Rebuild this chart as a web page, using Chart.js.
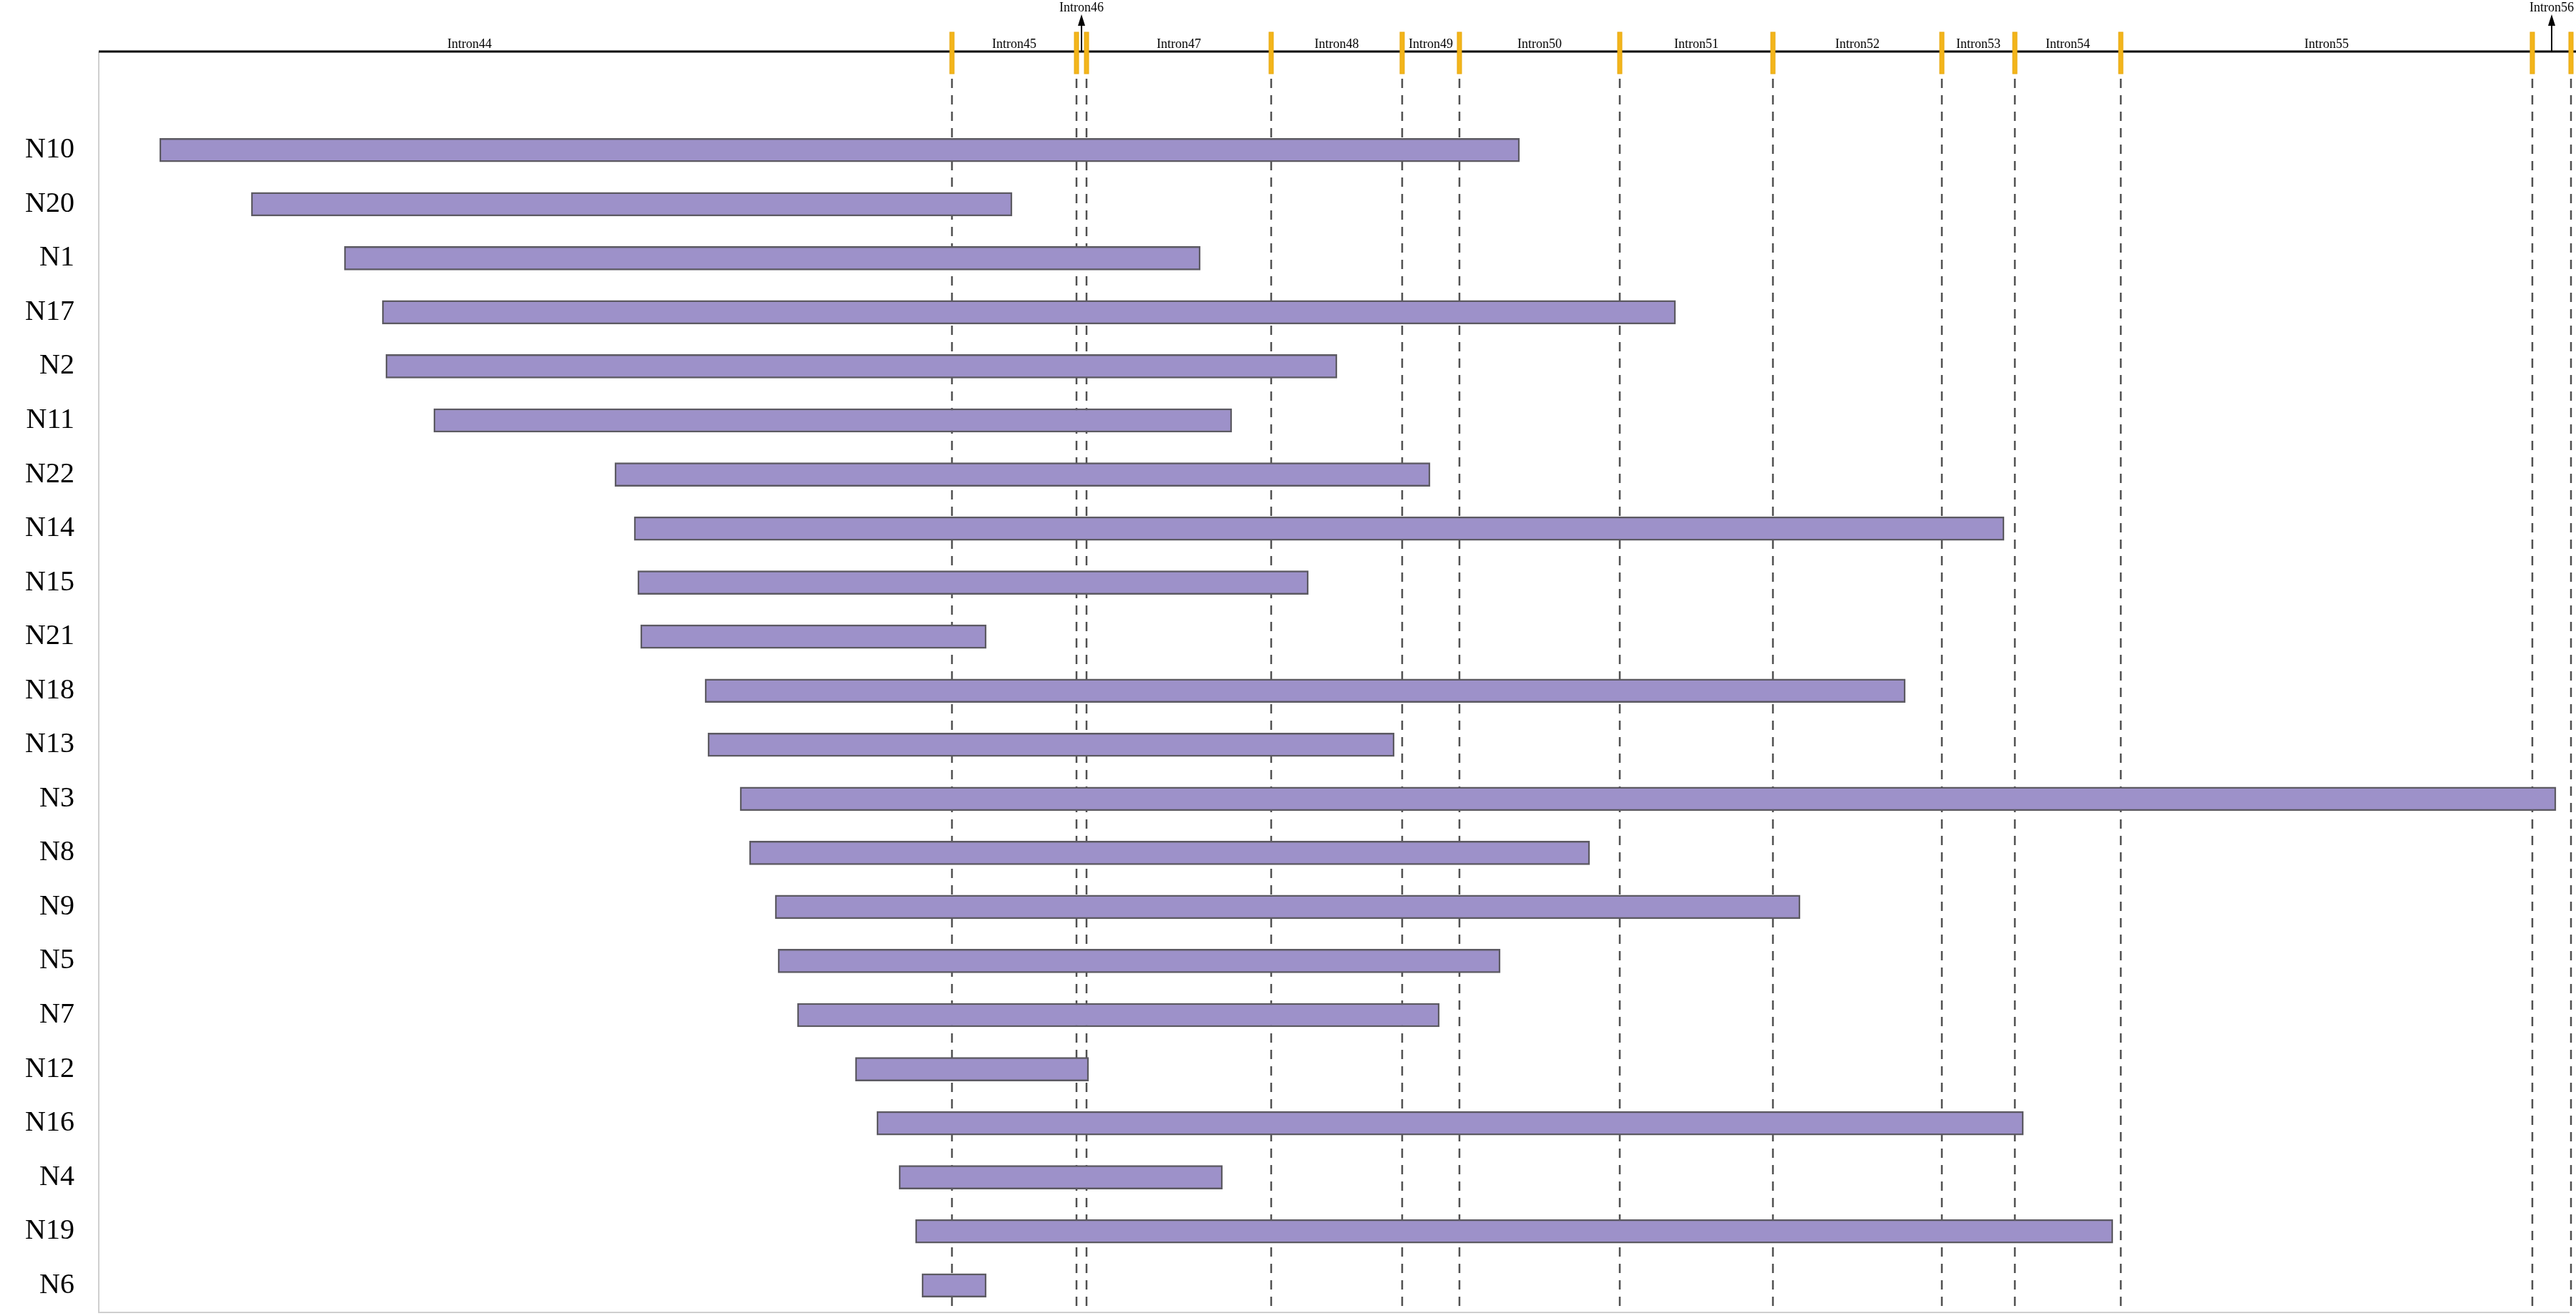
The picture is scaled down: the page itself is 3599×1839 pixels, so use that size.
<!DOCTYPE html>
<html>
<head>
<meta charset="utf-8">
<title>Intron deletions</title>
<script src="https://cdn.jsdelivr.net/npm/chart.js@4.4.0/dist/chart.umd.min.js"></script>
<style>
  html, body { margin: 0; padding: 0; background: #fff; overflow: hidden; }
  #chartDeletions { display: block; width: 3599px; height: 1839px; }
</style>
</head>
<body>
<canvas id="chartDeletions" width="3599" height="1839"></canvas>
<script>
// samples, top to bottom
const samples = ["N10", "N20", "N1", "N17", "N2", "N11", "N22", "N14", "N15", "N21", "N18",
  "N13", "N3", "N8", "N9", "N5", "N7", "N12", "N16", "N4", "N19", "N6"];
// deletion start / end (position units along the gene)
const starts = [223, 351, 481, 534, 539, 606, 859, 886, 891, 895, 985,
  989, 1034, 1047, 1083, 1087, 1114, 1195, 1225, 1256, 1279, 1288];
const ends = [2123, 1414, 1677, 2341, 1868, 1721, 1998, 2800, 1828, 1378, 2662,
  1948, 3571, 2221, 2515, 2096, 2011, 1521, 2827, 1708, 2952, 1378];

// exon positions (intron boundaries)
const exonPos = [1330, 1504, 1518, 1776, 1959, 2039, 2263, 2477, 2713, 2815, 2963, 3538, 3592];
const intronNames = ["Intron44", "Intron45", "Intron46", "Intron47", "Intron48", "Intron49", "Intron50",
  "Intron51", "Intron52", "Intron53", "Intron54", "Intron55", "Intron56"];
const intron44Start = -18;

const xMin = 138;
const xMax = 3597;

const serif = "'Liberation Serif', 'Times New Roman', serif";

const intronTrack = {
  id: "intronTrack",
  beforeDatasetsDraw(chart) {
    const { ctx, chartArea, scales } = chart;
    const x = scales.x;
    ctx.save();
    // plot frame (left + bottom)
    ctx.strokeStyle = "#cfcfcf";
    ctx.lineWidth = 2;
    ctx.beginPath();
    ctx.moveTo(chartArea.left, 72);
    ctx.lineTo(chartArea.left, chartArea.bottom);
    ctx.lineTo(x.getPixelForValue(3590), chartArea.bottom);
    ctx.stroke();
    // dashed guides under each exon
    ctx.strokeStyle = "#505050";
    ctx.lineWidth = 2.5;
    ctx.setLineDash([13, 10]);
    exonPos.forEach((p) => {
      const px = Math.round(x.getPixelForValue(p));
      ctx.beginPath();
      ctx.moveTo(px, 110);
      ctx.lineTo(px, chartArea.bottom);
      ctx.stroke();
    });
    ctx.restore();
  },
  afterDraw(chart) {
    const { ctx, chartArea, scales } = chart;
    const x = scales.x;
    const axisY = 72;
    ctx.save();
    // gene line
    ctx.strokeStyle = "#000";
    ctx.lineWidth = 3;
    ctx.beginPath();
    ctx.moveTo(chartArea.left, axisY);
    ctx.lineTo(chart.width, axisY);
    ctx.stroke();

    // intron labels
    ctx.font = "18px " + serif;
    ctx.fillStyle = "#000";
    ctx.textAlign = "center";
    const bounds = [intron44Start, ...exonPos];
    intronNames.forEach((name, i) => {
      const a = x.getPixelForValue(bounds[i]);
      const b = x.getPixelForValue(bounds[i + 1]);
      const mid = (a + b) / 2;
      const w = ctx.measureText(name).width;
      if (b - a > w + 4) {
        ctx.textBaseline = "alphabetic";
        ctx.fillText(name, mid, axisY - 5);
      } else {
        // narrow intron: arrow + label above
        ctx.lineWidth = 2;
        ctx.beginPath();
        ctx.moveTo(mid, axisY);
        ctx.lineTo(mid, 34);
        ctx.stroke();
        ctx.beginPath();
        ctx.moveTo(mid, 20);
        ctx.lineTo(mid - 5, 36);
        ctx.lineTo(mid + 5, 36);
        ctx.closePath();
        ctx.fill();
        ctx.textBaseline = "alphabetic";
        ctx.fillText(name, mid, 16);
      }
    });

    // exon marks
    ctx.fillStyle = "#f3b51b";
    ctx.strokeStyle = "#e7a80f";
    ctx.lineWidth = 1;
    exonPos.forEach((p) => {
      const px = x.getPixelForValue(p);
      ctx.fillRect(px - 3, 45, 6, 58);
      ctx.strokeRect(px - 3, 45, 6, 58);
    });
    ctx.restore();
  },
};

new Chart(document.getElementById("chartDeletions"), {
  type: "bar",
  data: {
    labels: samples,
    datasets: [
      {
        data: samples.map((s, i) => [starts[i], ends[i]]),
        backgroundColor: "#9d91c9",
        borderColor: "#5c5a62",
        borderWidth: 2.5,
        borderSkipped: false,
        barThickness: 33,
      },
    ],
  },
  options: {
    indexAxis: "y",
    responsive: false,
    devicePixelRatio: 1,
    animation: false,
    layout: { padding: { top: 172, bottom: 5, left: 0, right: 2 } },
    plugins: {
      legend: { display: false },
      tooltip: { enabled: false },
    },
    scales: {
      x: {
        type: "linear",
        min: xMin,
        max: xMax,
        display: false,
      },
      y: {
        grid: { display: false, drawTicks: false },
        border: { display: false },
        ticks: {
          padding: 34,
          color: "#000",
          font: { family: serif, size: 40 },
        },
        afterFit(scale) {
          // fixed label column, no extra vertical room for the labels
          scale.width = 138;
          scale.paddingTop = 0;
          scale.paddingBottom = 0;
        },
      },
    },
  },
  plugins: [intronTrack],
});
</script>
</body>
</html>
